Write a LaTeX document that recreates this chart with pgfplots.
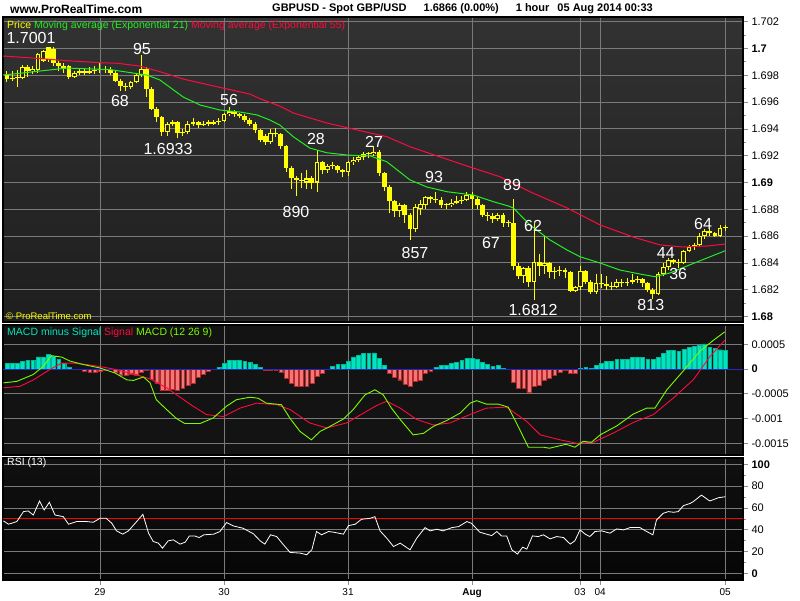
\documentclass[border=0pt]{standalone}
\usepackage{fontspec}
\setmainfont{Liberation Sans}
\usepackage{pgfplots}
\pgfplotsset{compat=1.18}
\usepackage{pgfplotstable}

\definecolor{pyel}{HTML}{FFFF00}
\definecolor{emag}{HTML}{22EE22}
\definecolor{emar}{HTML}{FF0A3C}
\definecolor{hpos}{HTML}{00E5C0}
\definecolor{hposb}{HTML}{00B898}
\definecolor{hneg}{HTML}{F07878}
\definecolor{hnegb}{HTML}{B82828}
\definecolor{macdg}{HTML}{7CFC00}
\definecolor{gridc}{HTML}{7A7A7A}
\definecolor{zeroc}{HTML}{2828C8}
\definecolor{pbgt}{HTML}{323232}
\definecolor{pbgb}{HTML}{1E1E1E}
\definecolor{hollowc}{HTML}{262626}
\definecolor{mbg}{HTML}{131313}
\definecolor{rbgt}{HTML}{101010}
\definecolor{rbgb}{HTML}{060606}
\definecolor{tickc}{HTML}{909090}

\pgfplotstableread{
i o h l c
-18 1.6980 1.6983 1.6975 1.6977
-17 1.6977 1.6983 1.6976 1.6978
-16 1.6978 1.6984 1.6971 1.6978
-15 1.6978 1.6988 1.6977 1.6986
-14 1.6986 1.6988 1.6979 1.6983
-13 1.6983 1.6987 1.6981 1.6985
-12 1.6984 1.6997 1.6982 1.6996
-11 1.6991 1.6999 1.6990 1.6998
-10 1.7001 1.7001 1.6990 1.6992
-9 1.7000 1.7001 1.6987 1.6989
-8 1.6989 1.6991 1.6983 1.6987
-7 1.6987 1.6989 1.6982 1.6985
-6 1.6987 1.6988 1.6977 1.6979
-5 1.6979 1.6983 1.6978 1.6982
-4 1.6982 1.6985 1.6980 1.6983
-3 1.6983 1.6985 1.6980 1.6982
-2 1.6982 1.6986 1.6981 1.6983
-1 1.6983 1.6987 1.6981 1.6984
0 1.6984 1.6989 1.6982 1.6985
1 1.6985 1.6987 1.6982 1.6984
2 1.6984 1.6986 1.6980 1.6982
3 1.6982 1.6983 1.6975 1.6976
4 1.6976 1.6977 1.6968 1.6972
5 1.6972 1.6974 1.6968 1.6971
6 1.6971 1.6976 1.6970 1.6975
7 1.6975 1.6981 1.6974 1.6980
8 1.6980 1.6995 1.6979 1.6985
9 1.6985 1.6986 1.6964 1.6970
10 1.6970 1.6971 1.6954 1.6955
11 1.6955 1.6956 1.6945 1.6949
12 1.6949 1.6950 1.6935 1.6938
13 1.6938 1.6945 1.6935 1.6944
14 1.6944 1.6947 1.6942 1.6945
15 1.6945 1.6946 1.6933 1.6937
16 1.6937 1.6940 1.6935 1.6938
17 1.6938 1.6946 1.6936 1.6944
18 1.6944 1.6948 1.6942 1.6945
19 1.6945 1.6946 1.6941 1.6943
20 1.6943 1.6946 1.6942 1.6944
21 1.6944 1.6947 1.6942 1.6944
22 1.6944 1.6947 1.6943 1.6945
23 1.6945 1.6948 1.6943 1.6946
24 1.6946 1.6952 1.6945 1.6951
25 1.6951 1.6956 1.6950 1.6953
26 1.6953 1.6954 1.6949 1.6951
27 1.6951 1.6952 1.6948 1.6950
28 1.6950 1.6951 1.6945 1.6947
29 1.6947 1.6948 1.6942 1.6944
30 1.6944 1.6945 1.6937 1.6939
31 1.6939 1.6940 1.6930 1.6932
32 1.6935 1.6936 1.6928 1.6930
33 1.6930 1.6940 1.6929 1.6937
34 1.6937 1.6941 1.6934 1.6936
35 1.6936 1.6937 1.6925 1.6927
36 1.6927 1.6928 1.6908 1.6911
37 1.6911 1.6912 1.6895 1.6903
38 1.6903 1.6905 1.6890 1.6902
39 1.6902 1.6907 1.6896 1.6901
40 1.6900 1.6909 1.6895 1.6903
41 1.6903 1.6905 1.6895 1.6900
42 1.6900 1.6924 1.6893 1.6915
43 1.6915 1.6916 1.6906 1.6909
44 1.6909 1.6914 1.6907 1.6912
45 1.6912 1.6915 1.6910 1.6912
46 1.6912 1.6913 1.6907 1.6909
47 1.6909 1.6910 1.6904 1.6908
48 1.6908 1.6916 1.6905 1.6915
49 1.6915 1.6919 1.6913 1.6917
50 1.6917 1.6920 1.6915 1.6919
51 1.6919 1.6923 1.6917 1.6921
52 1.6921 1.6923 1.6918 1.6921
53 1.6921 1.6927 1.6920 1.6923
54 1.6923 1.6924 1.6905 1.6907
55 1.6907 1.6908 1.6894 1.6897
56 1.6897 1.6898 1.6877 1.6886
57 1.6886 1.6887 1.6874 1.6879
58 1.6879 1.6885 1.6874 1.6883
59 1.6883 1.6884 1.6870 1.6876
60 1.6876 1.6877 1.6857 1.6865
61 1.6865 1.6884 1.6863 1.6882
62 1.6880 1.6887 1.6876 1.6884
63 1.6883 1.6890 1.6880 1.6889
64 1.6889 1.6890 1.6885 1.6888
65 1.6888 1.6893 1.6885 1.6887
66 1.6887 1.6889 1.6881 1.6883
67 1.6883 1.6885 1.6880 1.6883
68 1.6883 1.6888 1.6882 1.6885
69 1.6885 1.6890 1.6884 1.6886
70 1.6886 1.6890 1.6884 1.6887
71 1.6887 1.6893 1.6886 1.6891
72 1.6891 1.6893 1.6880 1.6888
73 1.6888 1.6889 1.6880 1.6883
74 1.6883 1.6884 1.6874 1.6876
75 1.6876 1.6878 1.6871 1.6875
76 1.6875 1.6877 1.6870 1.6873
77 1.6873 1.6877 1.6871 1.6876
78 1.6876 1.6877 1.6867 1.6870
79 1.6870 1.6872 1.6867 1.6870
80 1.6870 1.6888 1.6835 1.6838
81 1.6838 1.6840 1.6828 1.6830
82 1.6830 1.6837 1.6825 1.6836
83 1.6836 1.6838 1.6822 1.6826
84 1.6826 1.6870 1.6812 1.6841
85 1.6841 1.6847 1.6830 1.6838
86 1.6838 1.6860 1.6832 1.6840
87 1.6840 1.6841 1.6829 1.6833
88 1.6833 1.6837 1.6828 1.6834
89 1.6834 1.6838 1.6830 1.6835
90 1.6835 1.6836 1.6829 1.6833
91 1.6833 1.6834 1.6818 1.6819
92 1.6819 1.6823 1.6818 1.6822
93 1.6822 1.6838 1.6820 1.6834
94 1.6834 1.6835 1.6824 1.6826
95 1.6826 1.6827 1.6817 1.6818
96 1.6818 1.6832 1.6817 1.6825
97 1.6825 1.6832 1.6821 1.6824
98 1.6824 1.6830 1.6820 1.6823
99 1.6823 1.6826 1.6820 1.6822
100 1.6822 1.6828 1.6821 1.6826
101 1.6826 1.6828 1.6822 1.6825
102 1.6825 1.6829 1.6823 1.6826
103 1.6826 1.6832 1.6824 1.6827
104 1.6827 1.6830 1.6825 1.6828
105 1.6828 1.6829 1.6822 1.6825
106 1.6825 1.6826 1.6818 1.6820
107 1.6820 1.6821 1.6813 1.6817
108 1.6817 1.6833 1.6816 1.6832
109 1.6832 1.6840 1.6830 1.6837
110 1.6837 1.6844 1.6835 1.6842
111 1.6842 1.6843 1.6839 1.6841
112 1.6841 1.6843 1.6836 1.6840
113 1.6840 1.6850 1.6839 1.6849
114 1.6849 1.6853 1.6848 1.6852
115 1.6852 1.6855 1.6850 1.6853
116 1.6853 1.6862 1.6852 1.6860
117 1.6860 1.6865 1.6858 1.6864
118 1.6864 1.6865 1.6860 1.6862
119 1.6862 1.6863 1.6859 1.6860
120 1.6860 1.6868 1.6859 1.6866
121 1.6866 1.6868 1.6864 1.6866
}\candles

\pgfplotstableread{
i v
-18 0.000108
-17 0.000108
-16 0.000108
-15 0.000155
-14 0.000169
-13 0.000169
-12 0.000243
-11 0.000243
-10 0.00029
-9 0.000256
-8 0.000189
-7 0.000121
-6 0.00004
-5 0
-4 0
-3 -0.000047
-2 -0.00006
-1 -0.000067
0 -0.000047
1 -0.000027
2 -0.000013
3 -0.000067
4 -0.000115
5 -0.000135
6 -0.0001
7 -0.000115
8 -0.000067
9 -0.000027
10 -0.0002
11 -0.00028
12 -0.00042
13 -0.00042
14 -0.0004
15 -0.00042
16 -0.00038
17 -0.00032
18 -0.00028
19 -0.00017
20 -0.00011
21 -0.000047
22 0
23 0.000034
24 0.00012
25 0.000175
26 0.000175
27 0.000175
28 0.000155
29 0.000135
30 0.0001
31 0.00004
32 -0.000027
33 -0.000027
34 -0.000027
35 -0.000067
36 -0.00018
37 -0.00028
38 -0.00034
39 -0.00035
40 -0.00034
41 -0.00028
42 -0.00015
43 -0.00008
44 0
45 0.000054
46 0.000088
47 0.0001
48 0.000155
49 0.000243
50 0.000276
51 0.00031
52 0.00031
53 0.000324
54 0.000216
55 0.00008
56 -0.00008
57 -0.00016
58 -0.000216
59 -0.0003
60 -0.00035
61 -0.00025
62 -0.00023
63 -0.00008
64 -0.000047
65 0.00004
66 0.000067
67 0.00008
68 0.00012
69 0.00014
70 0.000175
71 0.00022
72 0.00022
73 0.00019
74 0.000135
75 0.000088
76 0.00005
77 0.000067
78 0.000013
79 0
80 -0.00027
81 -0.00038
82 -0.00038
83 -0.00047
84 -0.00035
85 -0.00032
86 -0.00022
87 -0.00018
88 -0.000135
89 -0.000067
90 -0.000034
91 -0.000094
92 -0.00008
93 0.00002
94 0.00004
95 0.00002
96 0.000067
97 0.00012
98 0.00015
99 0.00015
100 0.00019
101 0.0002
102 0.0002
103 0.00024
104 0.00024
105 0.00024
106 0.0002
107 0.00019
108 0.00024
109 0.00032
110 0.00037
111 0.00038
112 0.00036
113 0.0004
114 0.00044
115 0.00046
116 0.00049
117 0.00051
118 0.00044
119 0.00042
120 0.00039
121 0.00038
}\hist

\pgfplotsset{
  panel/.style={
    scale only axis, width=740pt, anchor=south west,
    xmin=-18.77, xmax=124.44,
    axis line style={black, line width=1.6pt},
    xtick={0,24,48,72,92.9,96.8,121},
    xmajorgrids, ymajorgrids,
    major grid style={gridc, line width=0.9pt},
    ytick pos=right, yticklabel pos=right,
    tick align=outside,
    major tick length=5pt, minor tick length=3pt,
    every tick/.style={tickc, line width=0.8pt},
    yticklabel style={font=\fontsize{11}{12}\selectfont, black},
    scaled y ticks=false, scaled x ticks=false,
    /pgf/number format/assume math mode=true,
  },
  notx/.style={xticklabels={}, xtick style={draw=none}},
}

\begin{document}
\begin{tikzpicture}[x=1pt,y=1pt]
\path[use as bounding box] (0,0) rectangle (800,600);
\fill[white] (0,0) rectangle (800,600);

% ---------------- Price panel ----------------
\begin{axis}[panel, notx, at={(3pt,278pt)}, height=305pt,
  ymin=1.67959, ymax=1.702351,
  axis background/.style={top color=pbgt, bottom color=pbgb},
  ytick={1.68,1.682,1.684,1.686,1.688,1.69,1.692,1.694,1.696,1.698,1.7,1.702},
  yticklabels={\textbf{1.68},1.682,1.684,1.686,1.688,\textbf{1.69},1.692,1.694,1.696,1.698,\textbf{1.7},1.702},
  minor ytick={1.681,1.683,1.685,1.687,1.689,1.691,1.693,1.695,1.697,1.699,1.701},
]
% wicks
\addplot[draw=pyel, mark=none, line width=1pt, forget plot,
  quiver={u=0, v=\thisrow{h}-\thisrow{l}}]
  table[x=i, y=l] {\candles};
% bodies
\addplot[draw=pyel, mark=none, line width=4.8pt, forget plot,
  quiver={u=0, v={max(abs(\thisrow{c}-\thisrow{o}),0.00008)}}]
  table[x=i, y expr={min(\thisrow{o},\thisrow{c})}] {\candles};
% hollow interiors of rising candles
\addplot[draw=hollowc, mark=none, line width=2.8pt, forget plot,
  quiver={u=0, v={max(\thisrow{c}-\thisrow{o}-0.00016,0)}}]
  table[x=i, y expr={\thisrow{o}+0.00008}] {\candles};
% EMA 55
\addplot[emar, line width=1pt, mark=none] coordinates {
(-18.8,1.69944) (-13,1.69929) (-6.4,1.69909) (0,1.69894) (3.3,1.69890) (7.7,1.69869)
(11.6,1.69827) (16.1,1.69772) (22.6,1.69715) (29,1.69660) (31,1.69625) (34.8,1.69570)
(37.4,1.69519) (43.9,1.69444) (50.3,1.69387) (55.5,1.69342) (60,1.69267) (66.4,1.69183)
(72.2,1.69108) (77.4,1.69043) (83.2,1.68931) (90.4,1.68810) (96.8,1.68683) (103.2,1.68593)
(108.4,1.68534) (112.8,1.68519) (117.5,1.68526) (121,1.68541)};
% EMA 21
\addplot[emag, line width=1pt, mark=none] coordinates {
(-18.8,1.69802) (-15.5,1.69815) (-9.7,1.69840) (-6.4,1.69854) (0,1.69845) (1.9,1.69843)
(6.4,1.69817) (9.1,1.69802) (11.6,1.69765) (16.1,1.69638) (19.4,1.69578) (23.2,1.69541)
(27.1,1.69526) (30.4,1.69504) (32.9,1.69466) (34.8,1.69429) (37.4,1.69342) (40.6,1.69257)
(43.9,1.69222) (47.8,1.69205) (52.3,1.69198) (55.5,1.69155) (60,1.69019) (63.3,1.68966)
(67.2,1.68931) (72.2,1.68907) (76.1,1.68857) (79,1.68825) (80,1.68810) (83.2,1.68683)
(87.1,1.68571) (90.4,1.68496) (92.9,1.68446) (96.8,1.68399) (100.6,1.68347) (104.5,1.68317)
(107.4,1.68297) (110.3,1.68325) (113.6,1.68377) (117.5,1.68437) (121,1.68491)};
% annotations
\begin{scope}[every node/.style={white, font=\fontsize{16}{16}\selectfont, inner sep=0pt}]
\node at (axis cs:-13.35,1.70080) {1.7001};
\node at (axis cs:8.13,1.69996) {95};
\node at (axis cs:3.87,1.69608) {68};
\node at (axis cs:24.97,1.69616) {56};
\node at (axis cs:13.16,1.69250) {1.6933};
\node at (axis cs:41.8,1.69325) {28};
\node at (axis cs:37.93,1.68780) {890};
\node at (axis cs:53.03,1.69302) {27};
\node at (axis cs:64.64,1.69041) {93};
\node at (axis cs:60.96,1.68474) {857};
\node at (axis cs:79.74,1.68981) {89};
\node at (axis cs:75.67,1.68549) {67};
\node at (axis cs:83.8,1.68675) {62};
\node at (axis cs:83.8,1.68049) {1.6812};
\node at (axis cs:106.6,1.68086) {813};
\node at (axis cs:109.5,1.68474) {44};
\node at (axis cs:111.9,1.68317) {36};
\node at (axis cs:116.7,1.68690) {64};
\end{scope}
\end{axis}

% ---------------- MACD panel ----------------
\begin{axis}[panel, notx, at={(3pt,145pt)}, height=130pt,
  ymin=-0.001737, ymax=0.000889,
  axis background/.style={fill=mbg},
  ytick={-0.0015,-0.001,-0.0005,0,0.0005},
  yticklabels={-0.0015,-0.001,-0.0005,\textbf{0},0.0005},
]
\addplot[ybar, bar width=3.8pt, fill=hpos, draw=hposb, line width=0.4pt, forget plot]
  table[x=i, y expr={max(\thisrow{v},0)}] {\hist};
\addplot[ybar, bar width=3.8pt, fill=hneg, draw=hnegb, line width=0.4pt, forget plot]
  table[x=i, y expr={min(\thisrow{v},0)}] {\hist};
\addplot[zeroc, line width=1pt, mark=none] coordinates {(-19,0) (125,0)};
\addplot[emar, line width=0.9pt, mark=none] coordinates {
(-18.7,-0.00038) (-15.5,-0.00035) (-12.9,-0.00022) (-9.7,-0.00001) (-7.4,0.00012) (-5.2,0.00012)
(-2.6,0.00009) (0,0.00005) (2.6,0) (6.5,-0.0001) (9.7,-0.0002) (12.9,-0.00038) (15.5,-0.00057)
(18,-0.00075) (20.6,-0.00092) (23.9,-0.00096) (27.1,-0.00079) (30.3,-0.00069) (34.2,-0.00072)
(36.8,-0.00082) (40.6,-0.00109) (43.9,-0.00119) (47.7,-0.00109) (51,-0.00089) (53.5,-0.00074)
(55.5,-0.00065) (58.1,-0.00079) (61.3,-0.00102) (64.5,-0.00113) (67.7,-0.00109) (71.6,-0.00092)
(74.8,-0.00079) (78.7,-0.00077) (82.6,-0.00106) (85.2,-0.00133) (89,-0.00143) (92.3,-0.0015)
(95.5,-0.00148) (99.4,-0.00129) (103.2,-0.00108) (107.1,-0.00092) (110.9,-0.00059)
(114.8,-0.00022) (118.1,0.00026) (120.9,0.00058)};
\addplot[macdg, line width=0.9pt, mark=none] coordinates {
(-18.7,-0.00028) (-16.1,-0.00025) (-12.9,-0.00011) (-11,0.00005) (-9.4,0.00027) (-7.4,0.00024)
(-5.8,0.00016) (-3.2,0.00009) (0,0.00002) (2.9,-0.00008) (5.2,-0.00022) (6.5,-0.00023)
(8.4,-0.00016) (9.7,-0.00028) (10.9,-0.00062) (12.9,-0.00082) (14.8,-0.001) (16.4,-0.0011)
(19.4,-0.0011) (21.9,-0.00099) (24.5,-0.00075) (26.4,-0.00062) (29,-0.00057) (30.6,-0.00059)
(32.2,-0.00069) (35.1,-0.00072) (36.8,-0.001) (38.7,-0.00126) (40.9,-0.00143) (42.6,-0.00126)
(44.5,-0.00116) (47.1,-0.00101) (49,-0.00082) (51.3,-0.00052) (53.2,-0.00042) (54.8,-0.00052)
(56.4,-0.00079) (58.1,-0.00102) (60.6,-0.00133) (62.6,-0.0013) (64.5,-0.00116) (67.1,-0.00104)
(69.7,-0.00089) (71.6,-0.00069) (72.9,-0.00064) (74.8,-0.00071) (77.1,-0.00071) (79,-0.00077)
(80.6,-0.00109) (82.9,-0.00158) (85.8,-0.00158) (87,-0.0016) (90.2,-0.00152) (91.9,-0.00158)
(93.5,-0.00146) (95.1,-0.00148) (96.8,-0.00133) (100,-0.00115) (103.2,-0.00091)
(105.8,-0.00079) (107.4,-0.00079) (109.7,-0.00042) (113.2,0) (116.1,0.00036) (118.7,0.00058)
(120.9,0.00075)};
\end{axis}

% ---------------- RSI panel ----------------
\begin{axis}[panel, at={(3pt,20pt)}, height=122pt,
  ymin=-5.8, ymax=105.7,
  axis background/.style={top color=rbgt, bottom color=rbgb},
  ytick={0,20,40,60,80,100},
  yticklabels={\textbf{0},20,40,60,80,\textbf{100}},
  minor ytick={10,30,50,70,90},
  xtick pos=left,
  xticklabels={29,30,31,\textbf{Aug},03,04,05},
  xticklabel style={font=\fontsize{10}{11}\selectfont, black},
]
\addplot[red, line width=1pt, mark=none] coordinates {(-19,50) (125,50)};
\addplot[white, line width=0.8pt, mark=none] coordinates {
(-18.7,48.2) (-17.7,45.2) (-16.1,47.6) (-14.8,56.7) (-13.9,57.3) (-12.9,53.6) (-11.7,66.4)
(-10.8,58.2) (-9.8,65.2) (-8.7,53.6) (-7.1,52.1) (-6.1,45.2) (-4.5,47.6) (-2.6,47.6) (-1.3,47)
(0,50.6) (1.2,50.6) (2.3,46) (3.2,39.1) (4.4,36.1) (5.5,39.1) (7.1,47.6) (8.3,54.2) (9.4,37)
(10.3,29.4) (11.3,27.9) (12.1,23.3) (13.2,30) (14.2,30.9) (15.5,27) (16.5,28.8) (17.3,34.5)
(18.3,34.5) (19.2,33) (20.1,35.5) (22,36.1) (23.2,38.5) (24.5,46.7) (25.8,43.6) (27.7,41.5)
(29.7,36.4) (31,30) (31.9,27) (33,35.5) (34.2,33.9) (35.5,26.4) (36.8,19.4) (38.7,18.8)
(40,17.3) (41,21.8) (41.9,38.5) (42.9,35.5) (44.2,38.5) (45.2,37.9) (47.1,36.1) (48.1,43.9)
(49.4,45.2) (50.6,49.7) (52.3,50.6) (53.2,52.1) (54.2,39.1) (55.5,32.4) (56.8,24.8) (58.1,27.9)
(60,21.8) (61.3,32.4) (62.9,42.1) (63.9,39.1) (65.2,40.6) (66.4,39.1) (68.1,42.1) (69.4,43)
(71,47.6) (71.9,46) (73.5,37.9) (74.8,36.1) (75.8,34.8) (76.8,38.5) (77.7,34.5) (78.7,34.5)
(79.7,21.8) (80.8,17.9) (81.8,24.2) (82.6,22.4) (83.7,34.5) (84.8,33.9) (85.8,35.5) (87.1,31.8)
(88.4,33.9) (89.7,33) (91,27) (91.9,30) (92.9,40) (93.9,36.1) (94.8,33.9) (95.8,38.5)
(97.1,39.1) (98.7,37) (100,40.9) (101.3,40) (102.6,42.1) (104.5,42.1) (105.8,38.5) (107,35.5)
(107.7,49.1) (109,55.2) (110,56.7) (111,56.1) (111.9,56.7) (112.9,62.1) (114.2,64.2)
(114.8,65.8) (116.4,71.8) (118,66.4) (119.7,69.4) (121,70.3)};
\end{axis}

% ---------------- texts ----------------
\node[anchor=west, font=\bfseries\fontsize{12}{12}\selectfont, inner sep=0pt] at (10,591) {www.ProRealTime.com};
\node[anchor=west, font=\bfseries\fontsize{11}{12}\selectfont, inner sep=0pt] at (272,591)
  {GBPUSD - Spot GBP/USD\hspace{17pt}1.6866 (0.00\%)\hspace{17pt}1 hour\hspace{8pt}05 Aug 2014 00:33};
\node[anchor=west, font=\fontsize{10.5}{12}\selectfont, inner sep=0pt] at (7,574)
  {\textcolor{pyel}{Price} \textcolor{emag}{Moving average (Exponential 21)} \textcolor{emar}{Moving average (Exponential 55)}};
\node[anchor=west, font=\fontsize{9.5}{10}\selectfont, inner sep=0pt, text=pyel] at (6,284) {\textcopyright\ ProRealTime.com};
\node[anchor=west, font=\fontsize{10.5}{12}\selectfont, inner sep=0pt] at (7,267)
  {\textcolor{hpos}{MACD minus Signal} \textcolor{emar}{Signal} \textcolor{macdg}{MACD (12 26 9)}};
\node[anchor=west, font=\fontsize{10.5}{12}\selectfont, inner sep=0pt, white] at (7,137) {RSI (13)};
\end{tikzpicture}
\end{document}
